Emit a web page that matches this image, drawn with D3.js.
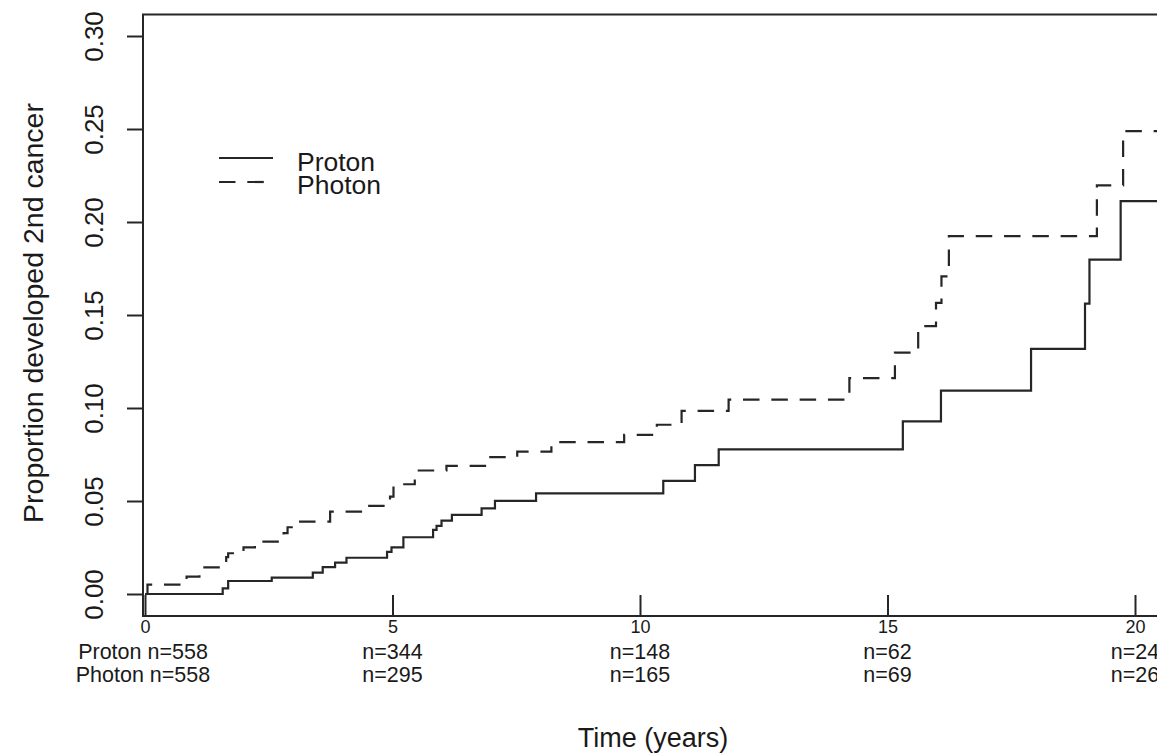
<!DOCTYPE html>
<head>
<meta charset="utf-8">
<title>Second cancer: proton vs photon</title>
<style>
	body { margin: 0; background: #fff; }
	svg text { font-family: "Liberation Sans", Arial, sans-serif; fill: #1a1a1a; }
</style>
</head>

<div id="chart"></div>

<script src="https://cdn.jsdelivr.net/npm/d3@7"></script>
<script>
// Cumulative incidence (time in years, proportion)
const protonTime = [0, 1.57, 1.68, 2.56, 3.39, 3.59, 3.84, 4.07, 4.89, 4.98, 5.22, 5.82, 5.89, 5.99, 6.20, 6.80, 7.07, 7.90, 10.47, 11.11, 11.59, 15.31, 16.08, 17.90, 18.99, 19.08, 19.71, 20.6];
const protonProb = [0, 0.003, 0.007, 0.0088, 0.0115, 0.0144, 0.0169, 0.0195, 0.0226, 0.0251, 0.0305, 0.0345, 0.0366, 0.0395, 0.0425, 0.046, 0.0501, 0.0541, 0.0608, 0.0693, 0.0778, 0.0928, 0.1093, 0.1318, 0.1561, 0.1798, 0.2112, 0.2112];

const photonTime = [0, 0.05, 0.84, 1.10, 1.64, 1.68, 1.99, 2.22, 2.80, 2.88, 3.10, 3.74, 4.42, 4.95, 5.02, 5.45, 6.09, 6.90, 7.52, 8.21, 9.68, 10.34, 10.84, 11.79, 14.23, 15.15, 15.62, 15.98, 16.09, 16.24, 19.23, 19.76, 20.6];
const photonProb = [0, 0.005, 0.0093, 0.0143, 0.0198, 0.0219, 0.0251, 0.0282, 0.0327, 0.0359, 0.0389, 0.0443, 0.0474, 0.0524, 0.059, 0.0664, 0.0689, 0.0736, 0.0765, 0.0816, 0.0856, 0.091, 0.0985, 0.1045, 0.1161, 0.1298, 0.144, 0.1565, 0.1708, 0.1924, 0.2197, 0.2489, 0.2489];

// Numbers at risk under the axis
const riskTimes = [0, 5, 10, 15, 20];
const protonRisk = [558, 344, 148, 62, 24];
const photonRisk = [558, 295, 165, 69, 26];

const yTicks = [0, 0.05, 0.10, 0.15, 0.20, 0.25, 0.30];
const seriesNames = ["Proton", "Photon"];

const width = 1157, height = 754;
const INK = "#262626";
const DASH = "16.5,11.8";

const x = d3.scaleLinear().domain([0, 20]).range([145, 1135]);
const y = d3.scaleLinear().domain([0, 0.30]).range([594, 36]);

const svg = d3.select("#chart").append("svg")
	.attr("width", width)
	.attr("height", height);

//
// Frame (right edge runs off the page)
//
svg.append("path")
	.attr("d", "M1170,14.5H143V616H1170")
	.attr("fill", "none")
	.attr("stroke", INK)
	.attr("stroke-width", 2);

//
// Y axis, ticks outside, labels turned
//
const yAxis = svg.append("g")
	.attr("transform", "translate(143,0)")
	.call(d3.axisLeft(y).tickValues(yTicks).tickSize(16).tickFormat(d3.format(".2f")));
yAxis.select(".domain").remove();
yAxis.selectAll("line").attr("stroke", INK).attr("stroke-width", 2);
yAxis.selectAll("text")
	.attr("transform", "rotate(-90)")
	.attr("x", 0).attr("y", -40).attr("dy", 0)
	.attr("text-anchor", "middle")
	.style("font-size", "26px");

//
// X axis, ticks pointing into the plot
//
const xAxis = svg.append("g")
	.attr("transform", "translate(0,616)")
	.call(d3.axisBottom(x).tickValues(riskTimes).tickSize(-21));
xAxis.select(".domain").remove();
xAxis.selectAll("line").attr("stroke", INK).attr("stroke-width", 2);
xAxis.selectAll("text")
	.attr("y", 17).attr("dy", 0)
	.style("font-size", "18px");

// numbers at risk
svg.append("g").selectAll("text")
	.data(riskTimes)
	.join("text")
	.attr("x", (d, i) => i === 0 ? x(d) - 2 : x(d))
	.attr("y", 659)
	.attr("text-anchor", "middle")
	.style("font-size", "21.5px")
	.text((d, i) => (i === 0 ? seriesNames[0] + " " : "") + "n=" + protonRisk[i]);

svg.append("g").selectAll("text")
	.data(riskTimes)
	.join("text")
	.attr("x", (d, i) => i === 0 ? x(d) - 2 : x(d))
	.attr("y", 682)
	.attr("text-anchor", "middle")
	.style("font-size", "21.5px")
	.text((d, i) => (i === 0 ? seriesNames[1] + " " : "") + "n=" + photonRisk[i]);

//
// Titles
//
svg.append("text")
	.attr("x", 653).attr("y", 747)
	.attr("text-anchor", "middle")
	.style("font-size", "27px")
	.text("Time (years)");

svg.append("text")
	.attr("transform", "translate(43,313) rotate(-90)")
	.attr("text-anchor", "middle")
	.style("font-size", "28.5px")
	.text("Proportion developed 2nd cancer");

//
// Step curves
//
const step = d3.line()
	.x(d => x(d[0]))
	.y(d => y(d[1]))
	.curve(d3.curveStepAfter);

svg.append("path")
	.datum(d3.zip(protonTime, protonProb))
	.attr("d", step)
	.attr("fill", "none")
	.attr("stroke", INK)
	.attr("stroke-width", 2.2);

svg.append("path")
	.datum(d3.zip(photonTime, photonProb))
	.attr("d", step)
	.attr("fill", "none")
	.attr("stroke", INK)
	.attr("stroke-width", 2.2)
	.attr("stroke-dasharray", DASH);

//
// Legend
//
const legend = svg.append("g");
seriesNames.forEach(function(name, i) {
	legend.append("line")
		.attr("x1", 219).attr("x2", 273)
		.attr("y1", 158 + i * 24).attr("y2", 158 + i * 24)
		.attr("stroke", INK)
		.attr("stroke-width", 2.2)
		.attr("stroke-dasharray", i === 1 ? DASH : null);
	legend.append("text")
		.attr("x", 297).attr("y", 171 + i * 23)
		.style("font-size", "26.5px")
		.text(name);
});
</script>
